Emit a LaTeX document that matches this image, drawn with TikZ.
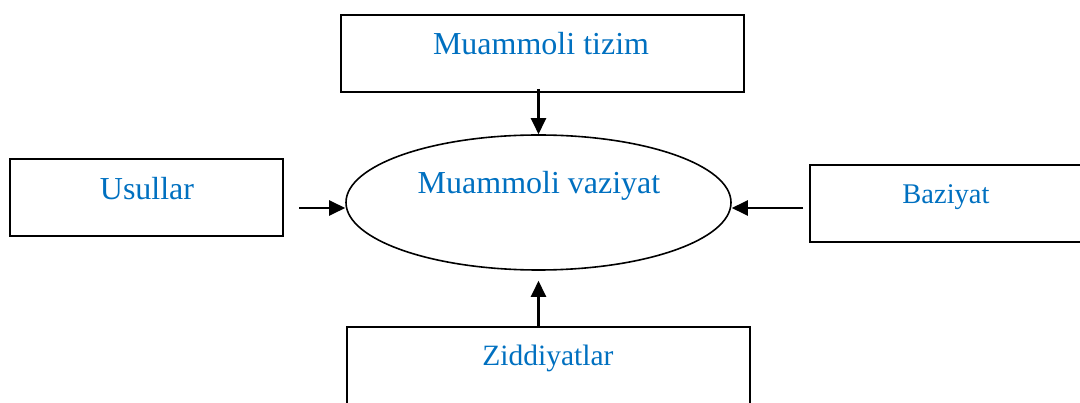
\documentclass[tikz,border=0pt]{standalone}
\usepackage{fontspec}
\setmainfont{Liberation Serif}
\usetikzlibrary{arrows.meta,shapes.geometric}
\definecolor{txtblue}{HTML}{0070C0}
\begin{document}
\begin{tikzpicture}[x=1pt,y=-1pt,
  box/.style={draw,line width=1.6pt,rectangle,minimum height=77pt,inner sep=0pt},
  lbl/.style={text=txtblue,anchor=base,inner sep=0pt},
  conn/.style={line width=2.4pt,-{Triangle[length=16pt,width=15pt]}}]
\useasboundingbox (0,0) rectangle (1080,403);
\clip (0,0) rectangle (1080,403);
\node[box,minimum width=403pt] (tizim) at (542.5,53.5) {};
\node[box,minimum width=273pt] (usullar) at (146.5,197.5) {};
\node[box,minimum width=275pt] (baziyat) at (947.5,203.5) {};
\node[box,minimum width=403pt] (zidd) at (548.5,365.5) {};
\node[draw,line width=1.6pt,ellipse,minimum width=385pt,minimum height=135pt,inner sep=0pt] (ell) at (538.5,202.5) {};
\node[lbl,font=\fontsize{32}{38}\selectfont] (ttizim) at (541,55) {Muammoli tizim};
\node[lbl,font=\fontsize{32}{38}\selectfont] (tusullar) at (147,200) {Usullar};
\node[lbl,font=\fontsize{28.5}{34}\selectfont] (tbaziyat) at (946,204) {Baziyat};
\node[lbl,font=\fontsize{29.5}{35}\selectfont] (tzidd) at (548,366) {Ziddiyatlar};
\node[lbl,font=\fontsize{32}{38}\selectfont] (tell) at (539,194) {Muammoli vaziyat};
\coordinate (ua) at (299,208);
\coordinate (ba) at (803,208);
\draw[conn] ([yshift=4pt]ell.north |- tizim.south) -- (ell.north);
\draw[conn] (ua) -- (ua -| ell.west);
\draw[conn] (ba) -- (ba -| ell.east);
\draw[conn] (ell.south |- zidd.north) -- ([yshift=-10pt]ell.south);
\end{tikzpicture}
\end{document}
